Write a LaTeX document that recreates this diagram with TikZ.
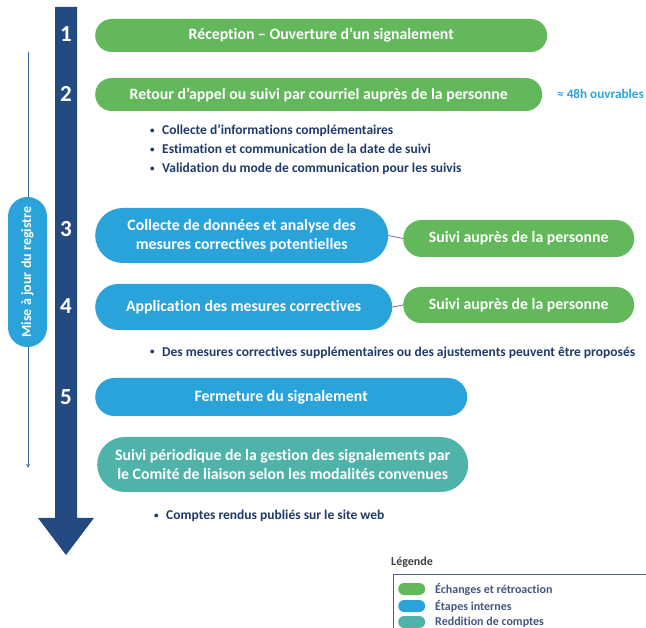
\documentclass[tikz,border=0pt]{standalone}
\usepackage{fontspec}
\setmainfont[Ligatures=NoCommon]{Carlito}
\usetikzlibrary{shapes.misc,positioning,arrows.meta}
\definecolor{vert}{HTML}{62B85A}
\definecolor{bleu}{HTML}{2AA3DA}
\definecolor{sarcelle}{HTML}{4FB3A9}
\definecolor{marine}{HTML}{234B82}
\definecolor{encre}{HTML}{1F3A68}
\definecolor{filet}{HTML}{3A68A3}
\newcommand\pucette{\makebox[12pt][l]{\raisebox{0.25ex}{\fontsize{9}{9}\selectfont •}}}
\begin{document}
\begin{tikzpicture}[x=1pt,y=-1pt,line join=round,line cap=round,>=stealth,
		pill/.style={rounded rectangle,inner sep=0pt,text=white,align=center,anchor=west,
			font=\bfseries\fontsize{15.8}{19}\selectfont},
		numero/.style={text=white,font=\bfseries\fontsize{23}{23}\selectfont},
		puce/.style={anchor=west,text=encre,align=left,inner sep=0pt,
			font=\bfseries\fontsize{13.5}{19}\selectfont},
		lien/.style={draw=encre!70,line width=0.8pt},
		pastille/.style={rounded rectangle,minimum width=27pt,minimum height=12pt,inner sep=0pt,anchor=west},
		legtxt/.style={anchor=west,text=encre!85,inner sep=0pt,font=\bfseries\fontsize{12}{14}\selectfont}]
	\clip (0,0) rectangle (646,628);
	\def\xg{55} \def\xd{77} \def\yh{7} \def\yb{518}
	% grande fleche
	\fill[marine] (\xg,\yh)--(\xd,\yh)--(\xd,\yb)--(94,\yb)--(66,555)--(38,\yb)--(\xg,\yb)--cycle;
	\node[numero] (n1) at (66,34) {1};
	\node[numero] (n2) at (66,94) {2};
	\node[numero] (n3) at (66,229) {3};
	\node[numero] (n4) at (66,306) {4};
	\node[numero] (n5) at (66,397) {5};
	% mise a jour du registre
	\coordinate (majhaut) at (28,52);
	\coordinate (majbas) at (28,468);
	\draw[->,filet,line width=0.9pt] (majhaut)--(majbas);
	\node[rounded rectangle,fill=bleu,rotate=90,minimum width=150pt,minimum height=39pt,inner sep=0pt,
		text=white,font=\bfseries\fontsize{14}{16}\selectfont] (registre) at (27.5,272) {Mise à jour du registre};
	% etapes
	\node[pill,fill=vert,minimum width=452pt,minimum height=33pt] (etape1) at (95,35.5)
		{Réception – Ouverture d’un signalement};
	\node[pill,fill=vert,minimum width=447pt,minimum height=33pt] (etape2) at (95,94.5)
		{Retour d’appel ou suivi par courriel auprès de la personne};
	\node[anchor=west,inner sep=0pt,text=bleu,font=\bfseries\fontsize{13.2}{15}\selectfont] (delai) at (557,94)
		{≈ 48h ouvrables};
	\node[puce] (puces2) at (150,150) {\pucette Collecte d’informations complémentaires\\
		\pucette Estimation et communication de la date de suivi\\
		\pucette Validation du mode de communication pour les suivis};
	\node[pill,fill=bleu,minimum width=293pt,minimum height=55pt] (etape3) at (95,235.5)
		{Collecte de données et analyse des\\mesures correctives potentielles};
	\node[pill,fill=vert,minimum width=231pt,minimum height=37pt] (suivi3) at (403,238.5)
		{Suivi auprès de la personne};
	\node[pill,fill=bleu,minimum width=297pt,minimum height=46pt] (etape4) at (95,307)
		{Application des mesures correctives};
	\node[pill,fill=vert,minimum width=231pt,minimum height=36pt] (suivi4) at (403,305)
		{Suivi auprès de la personne};
	\draw[lien] (etape3.east)--(suivi3.west);
	\draw[lien] (etape4.east)--(suivi4.west);
	\node[puce] (puces4) at (150,353) {\pucette Des mesures correctives supplémentaires ou des ajustements peuvent être proposés};
	\node[pill,fill=bleu,minimum width=372pt,minimum height=38pt] (etape5) at (95,397)
		{Fermeture du signalement};
	\node[pill,fill=sarcelle,minimum width=371pt,minimum height=55pt] (suiviper) at (97,464.5)
		{Suivi périodique de la gestion des signalements par\\le Comité de liaison selon les modalités convenues};
	\node[puce] (puces6) at (154,516) {\pucette Comptes rendus publiés sur le site web};
	% legende
	\node[anchor=west,inner sep=0pt,text=black!75,font=\bfseries\fontsize{12}{14}\selectfont] (legende) at (391,562) {Légende};
	\draw[encre!80,line width=0.8pt] (393,574) rectangle (660,640);
	\node[pastille,fill=vert] (sw1) at (398,589) {};
	\node[pastille,fill=bleu] (sw2) at (398,606) {};
	\node[pastille,fill=sarcelle] (sw3) at (398,622) {};
	\node[legtxt] (lg1) at (435,589) {Échanges et rétroaction};
	\node[legtxt] (lg2) at (435,606) {Étapes internes};
	\node[legtxt] (lg3) at (435,622) {Reddition de comptes};
\end{tikzpicture}
\end{document}
